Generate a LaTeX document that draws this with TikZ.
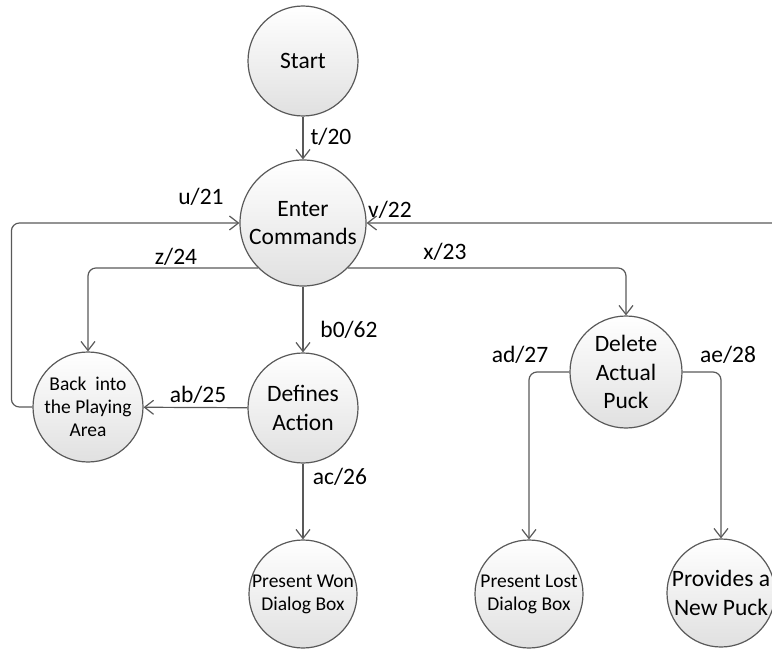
\documentclass[tikz,border=0pt]{standalone}
\usepackage{fontspec}
\setmainfont{Carlito}
\usetikzlibrary{arrows.meta,positioning}
\tikzset{every picture/.style={line width=1.2pt}}
\tikzset{
  state/.style={circle, draw=black!65, top color=white, bottom color=black!12,
    minimum size=110pt, inner sep=-6pt, align=center,
    font=\fontsize{23.5}{28.5}\selectfont},
  small/.style={font=\fontsize{19.5}{23}\selectfont},
  flow/.style={draw=black!65, -{Straight Barb[length=9pt,width=14pt]}, rounded corners=8pt},
  lbl/.style={font=\fontsize{23.5}{28}\selectfont, inner sep=0pt}
}

\begin{document}
\begin{tikzpicture}[x=1pt,y=-1pt]
    \useasboundingbox (0,0) rectangle (772,650);

    % 绘制状态
    \node[state] (start) at (303,61) {Start};
    \node[state, minimum size=126pt] (enter) at (303,223) {Enter\\Commands};
    \node[state] (defines) at (303,408) {Defines\\Action};
    \node[state, small] (back) at (88,407) {Back\ \ into\\the Playing\\Area};
    \node[state, minimum size=112pt] (delete) at (626,372) {Delete\\Actual\\Puck};
    \node[state, small, minimum size=108pt] (won) at (303,594) {Present Won\\Dialog Box};
    \node[state, small, minimum size=108pt] (lost) at (529,594) {Present Lost\\Dialog Box};
    \node[state, minimum size=108pt] (provides) at (721,593) {Provides a\\New Puck};
    \coordinate (rightin) at (780,250);

    % 绘制转移
    \draw[flow] (start) -- (enter);
    \draw[flow] (back.west) -- ++(-21,0) |- (enter.west);
    \draw[flow] (rightin) |- (enter.east);
    \draw[flow] (enter.225) -| (back.north);
    \draw[flow] (enter.-45) -| (delete.north);
    \draw[flow] (enter) -- (defines);
    \draw[flow] (defines) -- (back);
    \draw[flow] (defines) -- (won);
    \draw[flow] (delete.west) -| (lost.north);
    \draw[flow] (delete.east) -| (provides.north);

    % 标注
    \node[lbl] (l20) at (331,137) {t/20};
    \node[lbl] (l21) at (201,197) {u/21};
    \node[lbl] (l22) at (390,210) {v/22};
    \node[lbl] (l24) at (176,257) {z/24};
    \node[lbl] (l23) at (445,252) {x/23};
    \node[lbl] (l62) at (349,330) {b0/62};
    \node[lbl] (l25) at (198,395) {ab/25};
    \node[lbl] (l26) at (340,477) {ac/26};
    \node[lbl] (l27) at (520,355) {ad/27};
    \node[lbl] (l28) at (728,355) {ae/28};
\end{tikzpicture}
\end{document}
